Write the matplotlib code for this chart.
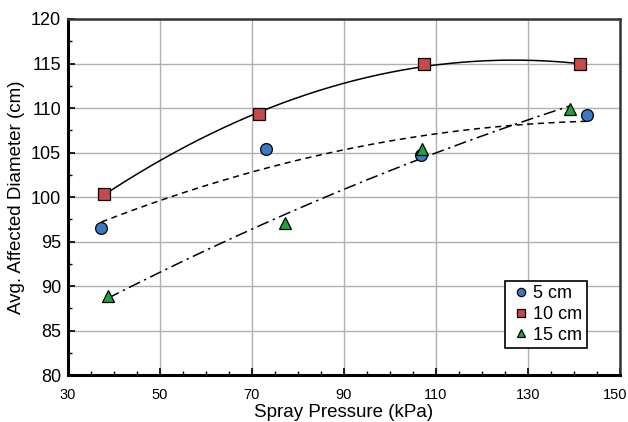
import numpy as np
import matplotlib
matplotlib.use("Agg")
import matplotlib.pyplot as plt
import matplotlib.transforms as mtransforms
from matplotlib.ticker import MultipleLocator

plt.rcParams['font.family'] = ['Liberation Sans', 'DejaVu Sans']

x5 = [37.3, 73.0, 106.8, 142.8]
y5 = [96.5, 105.4, 104.7, 109.2]
x10 = [37.8, 71.6, 107.5, 141.3]
y10 = [100.3, 109.3, 114.9, 114.9]
x15 = [38.7, 77.3, 106.9, 139.2]
y15 = [88.9, 97.1, 105.4, 109.9]
labels = ['5 cm', '10 cm', '15 cm']
xticks = [30, 50, 70, 90, 110, 130, 150]
colors = ['#3d78c4', '#c8494a', '#1ca33c']
markers = ['o', 's', '^']
fitstyles = [(0, (4, 3)), '-', (0, (8, 3, 1.5, 3))]

fig = plt.figure(figsize=(6.28, 4.22), dpi=100)
ax = fig.add_axes([0.108, 0.111, 0.879, 0.844])

series = [(x5, y5), (x10, y10), (x15, y15)]
for (xs, ys), ls in zip(series, fitstyles):
    coef = np.polyfit(xs, ys, 2)
    xx = np.linspace(min(xs), max(xs), 200)
    ax.plot(xx, np.polyval(coef, xx), color='black', lw=1.1, ls=ls, zorder=3)
for (xs, ys), lab, c, m in zip(series, labels, colors, markers):
    ax.plot(xs, ys, ls='none', marker=m, ms=8.5, mfc=c, mec='black', mew=0.9,
            label=lab, zorder=4)

ax.set_xlim(30, 150)
ax.set_ylim(80, 120)
ax.set_xticks(xticks)
ax.xaxis.set_minor_locator(MultipleLocator(5))
ax.yaxis.set_major_locator(MultipleLocator(5))
ax.yaxis.set_minor_locator(MultipleLocator(2.5))
ax.grid(True, which='major', color='#b0b0b0', lw=1.0, zorder=0)
ax.tick_params(which='both', direction='in', top=False, right=False, color='black')
ax.tick_params(axis='x', which='major', labelsize=10.5, pad=9)
ax.tick_params(axis='y', which='major', labelsize=13, pad=5)
ax.tick_params(which='major', length=5, width=1.2)
ax.tick_params(which='minor', length=3, width=1.0)
for side in ['left', 'bottom']:
    ax.spines[side].set_linewidth(2.2)
for side in ['top', 'right']:
    ax.spines[side].set_linewidth(1.8)
    ax.spines[side].set_color('#333333')

ax.set_xlabel('Spray Pressure (kPa)', fontsize=13.5, labelpad=1.5)
ax.set_ylabel('Avg. Affected Diameter (cm)', fontsize=13.5, labelpad=4)

# keep the last x tick label inside the figure, as in the reference
fig.canvas.draw()
last = ax.get_xticklabels()[-1]
last.set_transform(last.get_transform() +
                   mtransforms.ScaledTranslation(-5 / 100, 0, fig.dpi_scale_trans))

leg = ax.legend(loc='lower right', bbox_to_anchor=(0.94, 0.076), fontsize=13,
                handletextpad=0.0, handlelength=1.3, markerscale=0.7,
                borderpad=0.25, labelspacing=0.2, fancybox=False, framealpha=1,
                borderaxespad=0)
leg.get_frame().set_edgecolor('black')
leg.get_frame().set_linewidth(1.2)

fig.savefig('out.png', dpi=100)
